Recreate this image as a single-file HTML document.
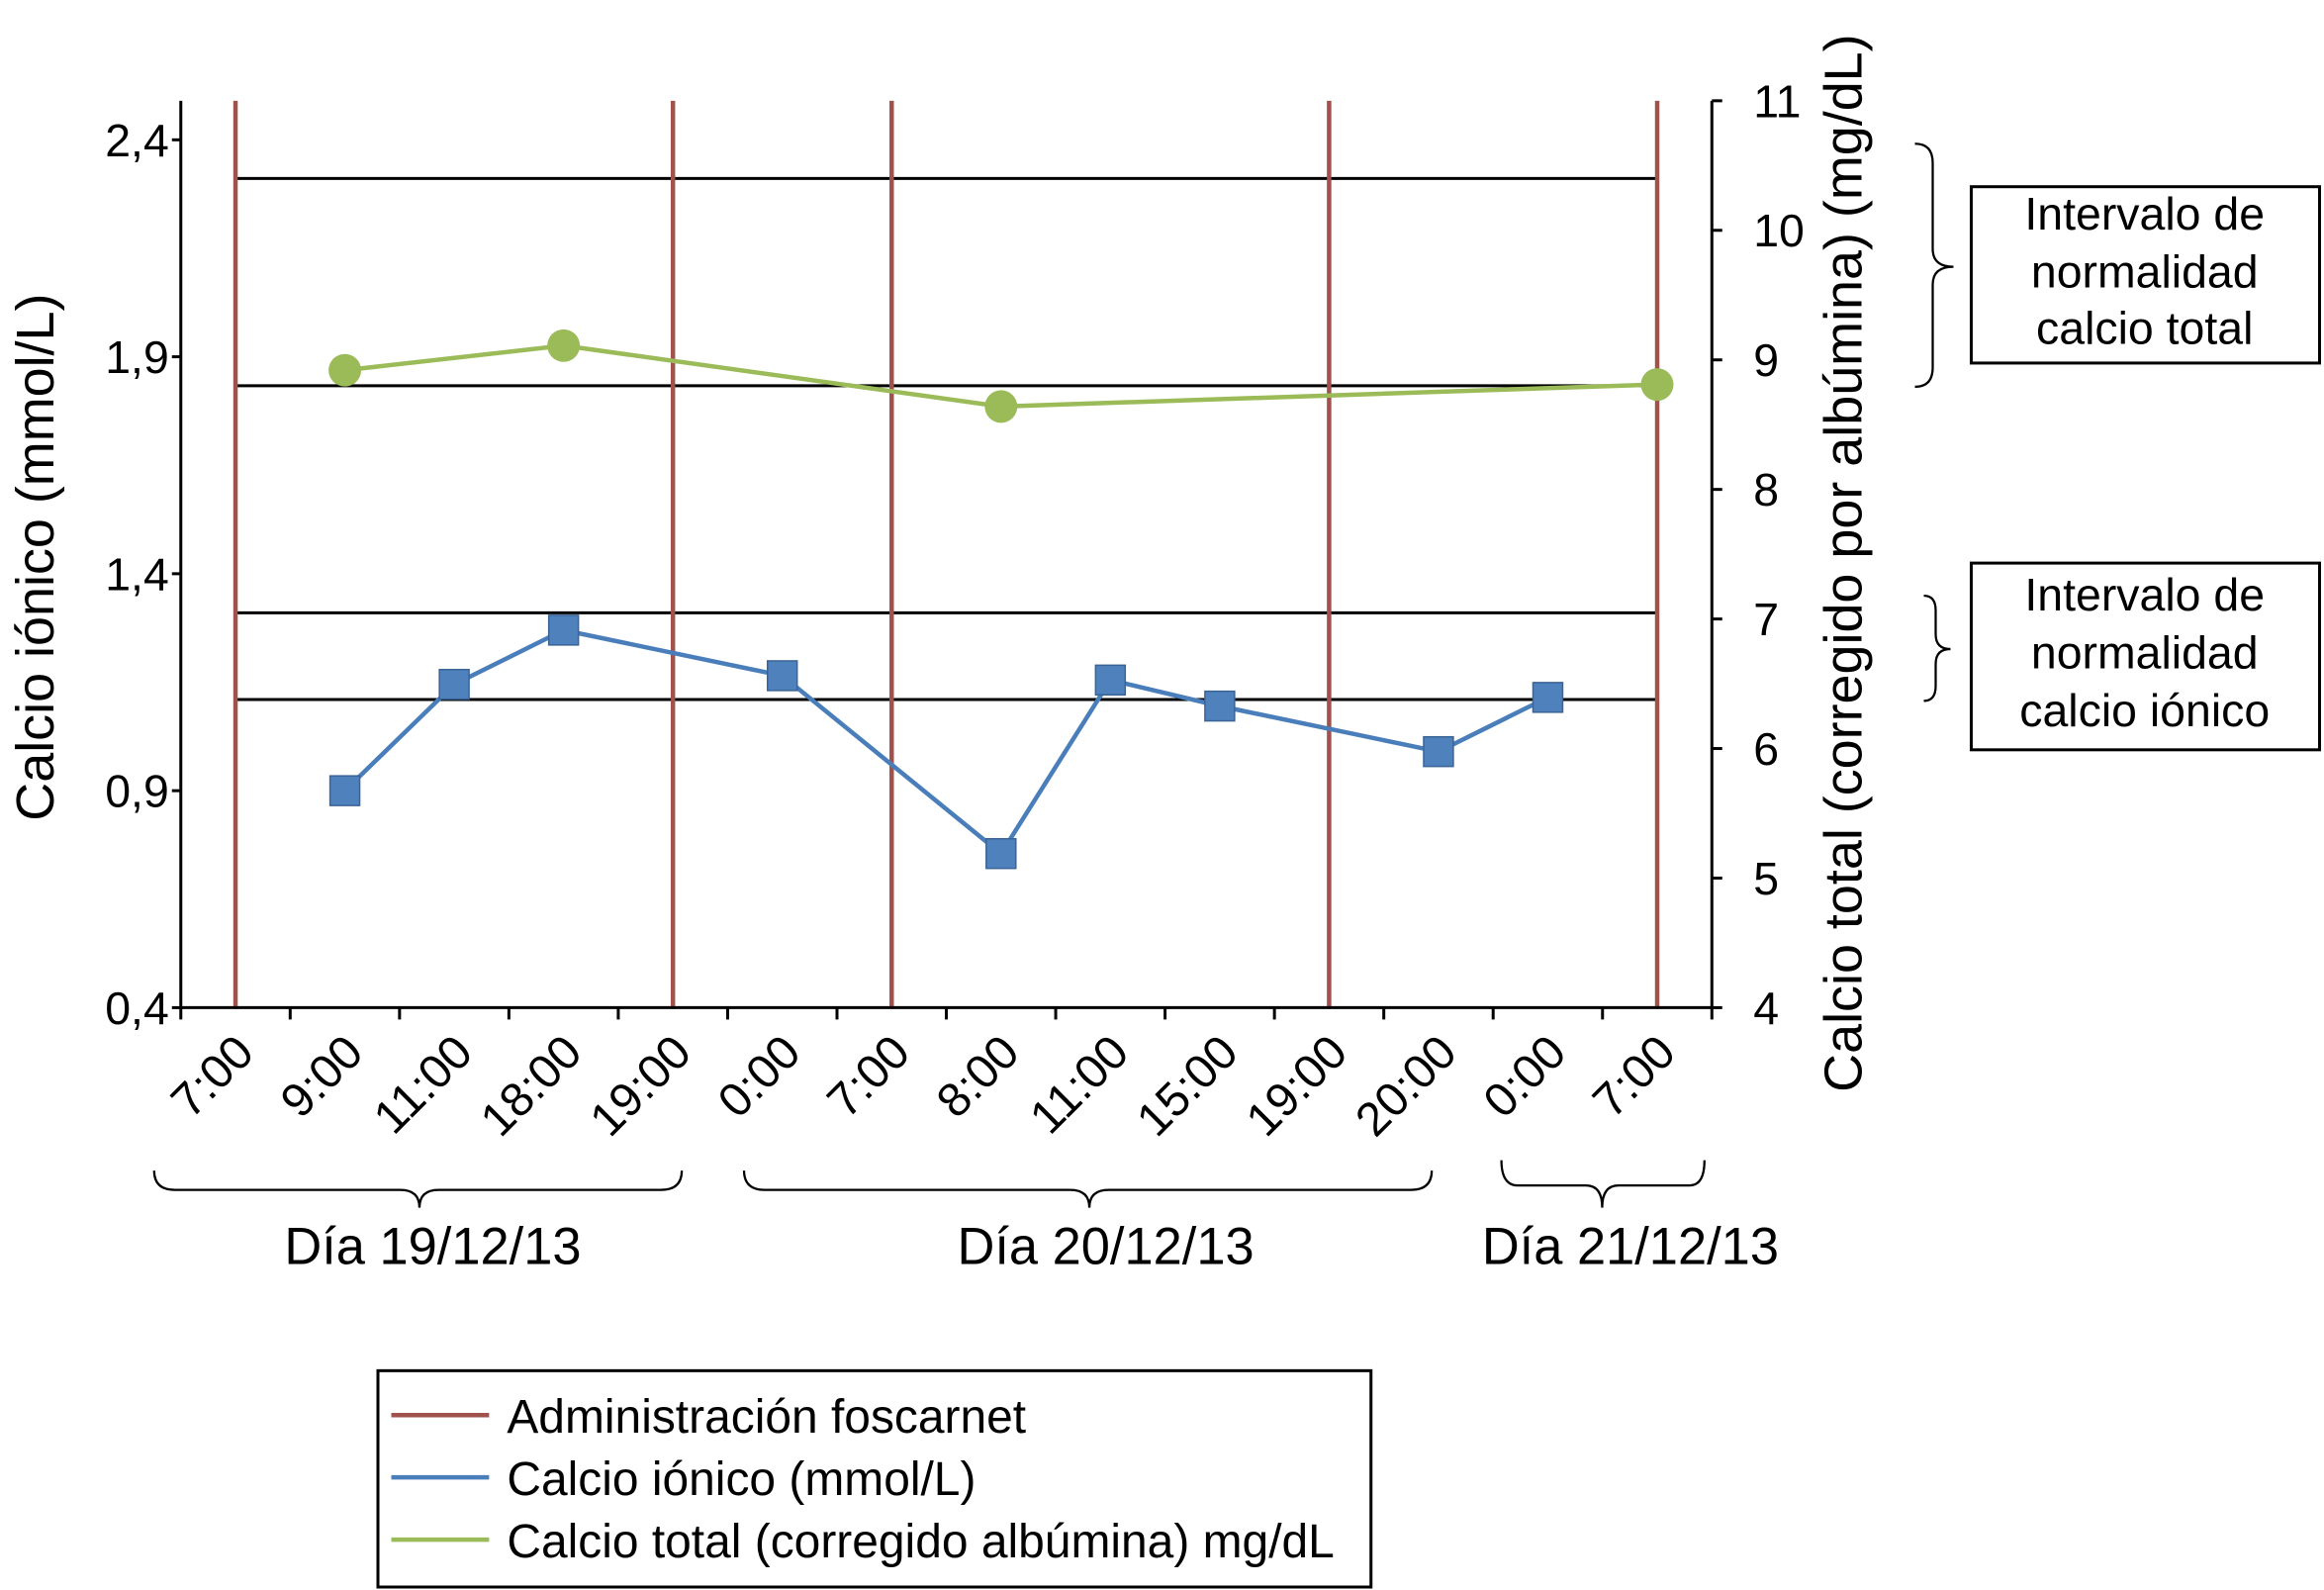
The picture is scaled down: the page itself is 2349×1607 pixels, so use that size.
<!DOCTYPE html>
<html><head><meta charset="utf-8"><style>
html,body{margin:0;padding:0;background:#fff;}
svg{display:block;font-family:"Liberation Sans",sans-serif;}
</style></head><body>
<svg id="chart" width="2349" height="1607" viewBox="0 0 1568 1073" preserveAspectRatio="none" xmlns="http://www.w3.org/2000/svg">
<g id="grid"></g>
<g id="axes"></g>
<g id="series"></g>
<text transform="translate(36,376) rotate(-90)" text-anchor="middle" font-size="36">Calcio iónico (mmol/L)</text>
<text transform="translate(1256,380) rotate(-90)" text-anchor="middle" font-size="36">Calcio total (corregido por albúmina) (mg/dL)</text>
<g fill="none" stroke="#000" stroke-width="1.5">
<path d="M104,790 Q104,803 118,803 L270,803 Q283,803 283,815 Q283,803 296,803 L446,803 Q460,803 460,790"/>
<path d="M502,790 Q502,803 516,803 L722,803 Q735,803 735,815 Q735,803 748,803 L952,803 Q966,803 966,790"/>
<path d="M1013,783 Q1013,800 1024,800 L1070,800 Q1081,800 1081,815 Q1081,800 1092,800 L1140,800 Q1150,800 1150,783"/>
</g>
<text x="292" y="853" text-anchor="middle" font-size="35">Día 19/12/13</text>
<text x="746" y="853" text-anchor="middle" font-size="35">Día 20/12/13</text>
<text x="1100" y="853" text-anchor="middle" font-size="35">Día 21/12/13</text>
<g fill="none" stroke="#000" stroke-width="1.5">
<path d="M1292,97 Q1304,97 1304,110 L1304,168 Q1304,180 1318,180 Q1304,180 1304,192 L1304,248 Q1304,261 1292,261"/>
<path d="M1298,402 Q1306,402 1306,412 L1306,428 Q1306,438 1316,438 Q1306,438 1306,448 L1306,463 Q1306,473 1298,473"/>
</g>
<g>
<rect x="1330" y="126" width="235" height="119" fill="#fff" stroke="#000" stroke-width="2"/>
<text x="1447" y="155" text-anchor="middle" font-size="31">Intervalo de</text>
<text x="1447" y="194" text-anchor="middle" font-size="31">normalidad</text>
<text x="1447" y="232" text-anchor="middle" font-size="31">calcio total</text>
</g>
<g>
<rect x="1330" y="380" width="235" height="126" fill="#fff" stroke="#000" stroke-width="2"/>
<text x="1447" y="412" text-anchor="middle" font-size="31">Intervalo de</text>
<text x="1447" y="451" text-anchor="middle" font-size="31">normalidad</text>
<text x="1447" y="490" text-anchor="middle" font-size="31">calcio iónico</text>
</g>
<g>
<rect x="255" y="925" width="670" height="146" fill="#fff" stroke="#000" stroke-width="2"/>
<line x1="264" y1="955" x2="330" y2="955" stroke="#A0524D" stroke-width="3"/>
<text x="342" y="967" font-size="32">Administración foscarnet</text>
<line x1="264" y1="997" x2="330" y2="997" stroke="#4A7EBB" stroke-width="3"/>
<text x="342" y="1009" font-size="32">Calcio iónico (mmol/L)</text>
<line x1="264" y1="1039" x2="330" y2="1039" stroke="#9BBB59" stroke-width="3"/>
<text x="342" y="1051" font-size="32">Calcio total (corregido albúmina) mg/dL</text>
</g>
</svg>
<script>
const categories = ["7:00","9:00","11:00","18:00","19:00","0:00","7:00","8:00","11:00","15:00","19:00","20:00","0:00","7:00"];
const ionicValues = [null,0.90,1.145,1.27,null,1.165,null,0.755,1.155,1.095,null,0.99,1.115,null];
const totalCats = [1,3,7,13];
const totalVals = [8.92,9.11,8.64,8.81];
const foscarnetCats = [0,4,6,10,13];
const leftTicks = [0.4,0.9,1.4,1.9,2.4];
const leftTickLabels = ["0,4","0,9","1,4","1,9","2,4"];
const rightTicks = [4,5,6,7,8,9,10,11];
const ionicRange = [1.11,1.31];
const totalRange = [8.8,10.4];

const NS="http://www.w3.org/2000/svg";
const X0=122,X1=1155,YT=68,YB=680;
const LMIN=0.4,LMAX=2.49,RMIN=4,RMAX=11;
const bw=(X1-X0)/categories.length;
const xC=i=>X0+bw*(i+0.5);
const yL=v=>YB-(v-LMIN)/(LMAX-LMIN)*(YB-YT);
const yR=v=>YB-(v-RMIN)/(RMAX-RMIN)*(YB-YT);
function mk(tag,attrs,parent){const e=document.createElementNS(NS,tag);for(const k in attrs)e.setAttribute(k,attrs[k]);parent.appendChild(e);return e;}
const grid=document.getElementById('grid'),axes=document.getElementById('axes'),ser=document.getElementById('series');

ionicRange.forEach(v=>{const l=mk('line',{x1:xC(0),x2:xC(13),y1:yL(v),y2:yL(v),stroke:'#000','stroke-width':2},grid);

});
totalRange.forEach(v=>{const l=mk('line',{x1:xC(0),x2:xC(13),y1:yR(v),y2:yR(v),stroke:'#000','stroke-width':2},grid);

});
foscarnetCats.forEach(c=>{const l=mk('line',{x1:xC(c),x2:xC(c),y1:YT,y2:YB,stroke:'#A0524D','stroke-width':3},grid);

});

mk('line',{x1:X0,x2:X0,y1:YT,y2:YB,stroke:'#000','stroke-width':2},axes);
mk('line',{x1:X1,x2:X1,y1:YT,y2:YB,stroke:'#000','stroke-width':2},axes);
mk('line',{x1:X0,x2:X1,y1:YB,y2:YB,stroke:'#000','stroke-width':2},axes);
leftTicks.forEach((v,i)=>{mk('line',{x1:X0-6,x2:X0,y1:yL(v),y2:yL(v),stroke:'#000','stroke-width':2},axes);
const t=mk('text',{x:X0-8,y:yL(v)+11,'text-anchor':'end','font-size':31},axes);t.textContent=leftTickLabels[i];

});
rightTicks.forEach(v=>{mk('line',{x1:X1,x2:X1+7,y1:yR(v),y2:yR(v),stroke:'#000','stroke-width':2},axes);
const t=mk('text',{x:X1+28,y:yR(v)+11,'font-size':31},axes);t.textContent=v;

});
for(let i=0;i<=categories.length;i++){mk('line',{x1:X0+bw*i,x2:X0+bw*i,y1:YB,y2:YB+8,stroke:'#000','stroke-width':2},axes);}
categories.forEach((c,i)=>{const x=xC(i)+14,y=YB+32;
const t=mk('text',{x:x,y:y,'text-anchor':'end','font-size':32,transform:`rotate(-45 ${x} ${y})`},axes);t.textContent=c;

});

let pts=[];ionicValues.forEach((v,i)=>{if(v!==null)pts.push([xC(i),yL(v)]);});
const pl=mk('polyline',{points:pts.map(p=>p.join(',')).join(' '),fill:'none',stroke:'#4A7EBB','stroke-width':3},ser);


pts.forEach(p=>{const r=mk('rect',{x:p[0]-10,y:p[1]-10,width:20,height:20,fill:'#4F81BD',stroke:'#3A6496','stroke-width':1},ser);

});
let gp=totalCats.map((c,i)=>[xC(c),yR(totalVals[i])]);
const gl=mk('polyline',{points:gp.map(p=>p.join(',')).join(' '),fill:'none',stroke:'#9BBB59','stroke-width':3},ser);


gp.forEach(p=>{const c=mk('circle',{cx:p[0],cy:p[1],r:11,fill:'#9BBB59'},ser);

});
</script>
</body></html>
